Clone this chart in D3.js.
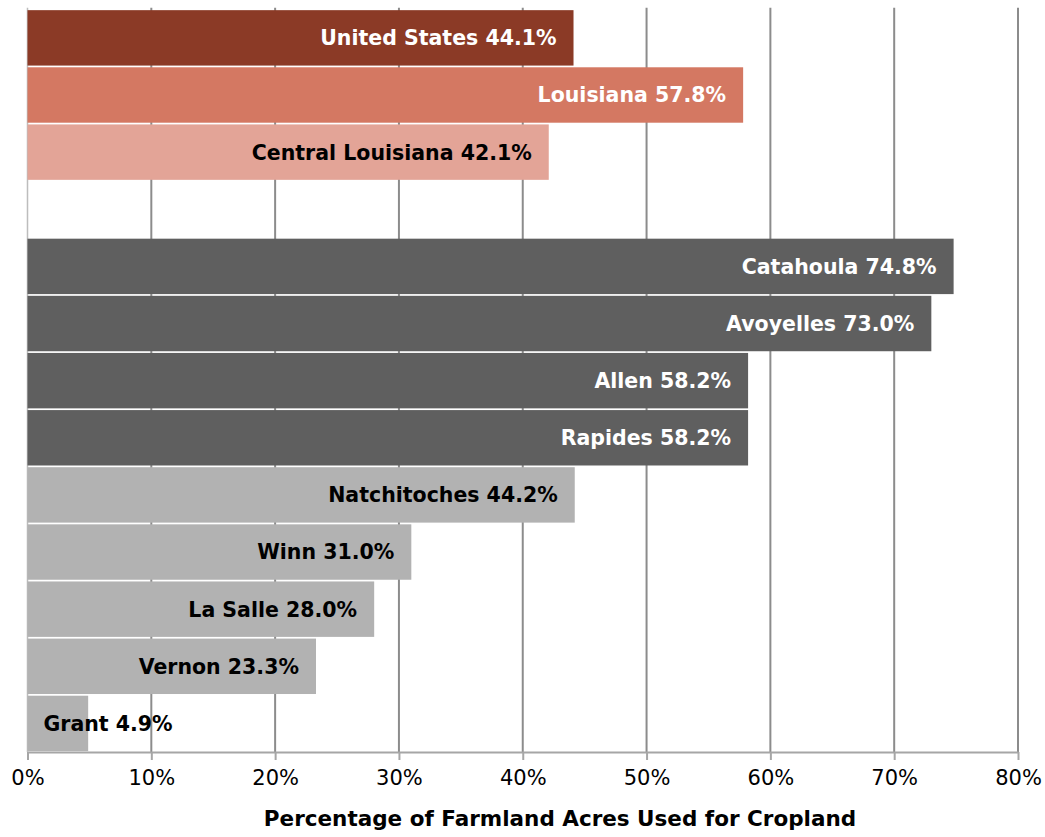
<!DOCTYPE html>
<html>
<head>
<meta charset="utf-8">
<script src="https://cdn.jsdelivr.net/npm/d3@7"></script>
<style>
  body { margin: 0; background: #fff; }
  text { font-family: "DejaVu Sans", sans-serif; }
</style>
</head>
<body>
<div id="chart"></div>
<script>
// data
var regions = ["United States", "Louisiana", "Central Louisiana"];
var regionValues = [44.1, 57.8, 42.1];
var parishes = ["Catahoula", "Avoyelles", "Allen", "Rapides", "Natchitoches", "Winn", "La Salle", "Vernon", "Grant"];
var parishValues = [74.8, 73.0, 58.2, 58.2, 44.2, 31.0, 28.0, 23.3, 4.9];
var parishTier = ["high", "high", "high", "high", "low", "low", "low", "low", "low"];
var xTicks = [0, 10, 20, 30, 40, 50, 60, 70, 80];
var axisTitle = "Percentage of Farmland Acres Used for Cropland";

var W = 1045, H = 837;
var margin = {top: 9.3, right: 27, bottom: 85, left: 27.5};
var width = W - margin.left - margin.right,
    height = H - margin.top - margin.bottom;

var gapKey = "__gap__";
var rows = regions.map(function(d, i) { return {name: d, value: regionValues[i], key: d}; })
  .concat([{name: gapKey, value: null, key: gapKey}])
  .concat(parishes.map(function(d, i) { return {name: d, value: parishValues[i], key: parishTier[i]}; }));

var color = d3.scaleOrdinal()
    .domain(["United States", "Louisiana", "Central Louisiana", "high", "low"])
    .range(["#8b3a26", "#d47862", "#e3a497", "#5f5f5f", "#b2b2b2"]);
var labelColor = d3.scaleOrdinal()
    .domain(["United States", "Louisiana", "Central Louisiana", "high", "low"])
    .range(["#fff", "#fff", "#000", "#fff", "#000"]);

var svg = d3.select("#chart").append("svg")
    .attr("width", W)
    .attr("height", H)
    .append("g")
    .attr("transform", "translate(" + margin.left + "," + margin.top + ")");

var x = d3.scaleLinear().domain([0, 80]).range([0, width]);
var y = d3.scaleBand()
    .domain(rows.map(function(d) { return d.name; }))
    .range([0, height])
    .paddingInner(0.03)
    .paddingOuter(0.015);

// gridlines
svg.append("g")
  .selectAll("line")
  .data(xTicks.slice(1))
  .enter().append("line")
    .attr("x1", function(d) { return x(d); })
    .attr("x2", function(d) { return x(d); })
    .attr("y1", -1.5)
    .attr("y2", height)
    .style("stroke", "#8c8c8c")
    .style("stroke-width", 2);

// left axis line
svg.append("line")
  .attr("x1", 0).attr("x2", 0)
  .attr("y1", -1.5).attr("y2", height)
  .style("stroke", "#bdbdbd")
  .style("stroke-width", 1.5);

// x axis
var xAxis = svg.append("g")
    .attr("transform", "translate(0," + height + ")")
    .call(d3.axisBottom(x).tickValues(xTicks).tickSize(8).tickSizeOuter(0)
      .tickFormat(function(d) { return d + "%"; }));
xAxis.select(".domain").style("stroke", "#a6a6a6").style("stroke-width", 2);
xAxis.selectAll(".tick line").style("stroke", "#a6a6a6").style("stroke-width", 2);
xAxis.selectAll(".tick text")
    .attr("y", 18)
    .attr("dy", "0.71em")
    .style("font-size", "21px")
    .style("fill", "#000");

// bars
var bars = rows.filter(function(d) { return d.value !== null; });
svg.append("g")
  .selectAll("rect")
  .data(bars)
  .enter().append("rect")
    .attr("x", x(0))
    .attr("y", function(d) { return y(d.name); })
    .attr("width", function(d) { return x(d.value) - x(0); })
    .attr("height", y.bandwidth())
    .attr("fill", function(d) { return color(d.key); });

// labels
svg.append("g")
  .selectAll("text")
  .data(bars)
  .enter().append("text")
    .attr("y", function(d) { return y(d.name) + y.bandwidth() / 2; })
    .attr("dy", "0.36em")
    .style("font-size", "20.5px")
    .style("font-weight", "bold")
    .style("fill", function(d) { return labelColor(d.key); })
    .text(function(d) { return d.name + " " + d.value.toFixed(1) + "%"; })
    .each(function(d) {
      var t = d3.select(this);
      var len = this.getComputedTextLength();
      var barW = x(d.value) - x(0);
      if (len + 34 > barW) {
        t.attr("x", x(0) + 16).attr("text-anchor", "start");
      } else {
        t.attr("x", x(d.value) - 17).attr("text-anchor", "end");
      }
    });

// axis title
svg.append("text")
  .attr("x", 560 - margin.left)
  .attr("y", 826 - margin.top)
  .attr("text-anchor", "middle")
  .style("font-size", "21.5px")
  .style("font-weight", "bold")
  .text(axisTitle);
</script>
</body>
</html>
